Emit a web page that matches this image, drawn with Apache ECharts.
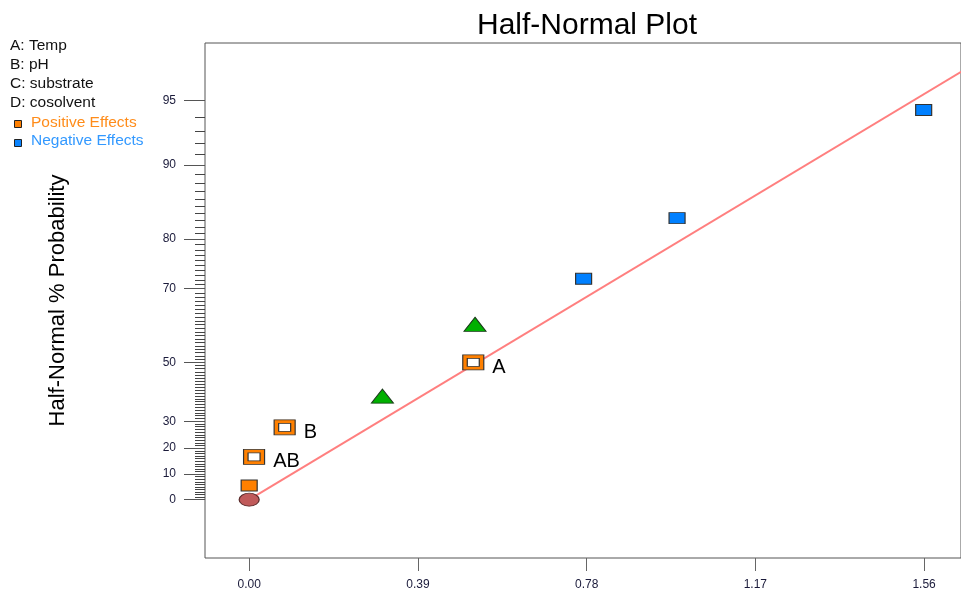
<!DOCTYPE html>
<html>
<head>
<meta charset="utf-8">
<script src="https://cdn.jsdelivr.net/npm/echarts@6/dist/echarts.min.js"></script>
<style>html,body{margin:0;padding:0;background:#fff}#c{width:961px;height:596px}</style>
</head>
<body>
<div id="c"></div>
<script>
// ---- data (x = |effect|, y = half-normal % probability) ----
const xTicks = [0.00, 0.39, 0.78, 1.17, 1.56];
const yMajorTicks = [0, 10, 20, 30, 50, 70, 80, 90, 95];
const yMinorTicks = [];
for (let i = 1; i <= 94; i++) { if (yMajorTicks.indexOf(i) < 0) yMinorTicks.push(i); }

const labeledEffects = ['AB', 'B', 'A'];
const labeledX = [0.0113, 0.082, 0.518];
const labeledP = [16.67, 27.78, 50.0];

const positiveSmallX = [0.0];
const positiveSmallP = [5.56];

const errorX = [0.308, 0.522];
const errorP = [38.89, 61.11];

const negativeX = [0.773, 0.989, 1.559];
const negativeP = [72.22, 83.33, 94.44];

const originX = [0.0];
const originP = [0.0];

const fitLineX = [0.0, 1.66];
const fitLineP = [0.0, 96.6];

const legendLines = ['A: Temp', 'B: pH', 'C: substrate', 'D: cosolvent'];

// ---- half-normal probability scale ----
function probit(p) {
  const a = [-3.969683028665376e+01, 2.209460984245205e+02, -2.759285104469687e+02, 1.383577518672690e+02, -3.066479806614716e+01, 2.506628277459239e+00];
  const b = [-5.447609879822406e+01, 1.615858368580409e+02, -1.556989798598866e+02, 6.680131188771972e+01, -1.328068155288572e+01];
  const c = [-7.784894002430293e-03, -3.223964580411365e-01, -2.400758277161838e+00, -2.549732539343734e+00, 4.374664141464968e+00, 2.938163982698783e+00];
  const d = [7.784695709041462e-03, 3.224671290700398e-01, 2.445134137142996e+00, 3.754408661907416e+00];
  const pl = 0.02425;
  let q, r;
  if (p < pl) { q = Math.sqrt(-2 * Math.log(p)); return (((((c[0]*q+c[1])*q+c[2])*q+c[3])*q+c[4])*q+c[5]) / ((((d[0]*q+d[1])*q+d[2])*q+d[3])*q+1); }
  if (p <= 1 - pl) { q = p - 0.5; r = q*q; return (((((a[0]*r+a[1])*r+a[2])*r+a[3])*r+a[4])*r+a[5])*q / (((((b[0]*r+b[1])*r+b[2])*r+b[3])*r+b[4])*r+1); }
  q = Math.sqrt(-2 * Math.log(1 - p)); return -(((((c[0]*q+c[1])*q+c[2])*q+c[3])*q+c[4])*q+c[5]) / ((((d[0]*q+d[1])*q+d[2])*q+d[3])*q+1);
}
function hz(pct) { return pct <= 0 ? 0 : probit(0.5 + pct / 200); }
function pts(xs, ps) { return xs.map((x, i) => [x, hz(ps[i])]); }

const FONT = '"Liberation Sans", Arial, sans-serif';
const majorZ = yMajorTicks.map(hz);
const minorZ = yMinorTicks.map(hz);

const labeledData = labeledX.map((x, i) => ({ name: labeledEffects[i], value: [x, hz(labeledP[i])] }));

const chart = echarts.init(document.getElementById('c'), null, { renderer: 'canvas' });
const legendGraphics = [];
legendLines.forEach((t, i) => {
  legendGraphics.push({ type: 'text', left: 10, top: 47 + i * 18.9 - 9, style: { text: t, font: '15.5px ' + FONT, fill: '#111' } });
});
legendGraphics.push({ type: 'rect', shape: { x: 14.5, y: 120.5, width: 7, height: 7 }, style: { fill: '#ff8000', stroke: '#222', lineWidth: 1 } });
legendGraphics.push({ type: 'text', left: 31, top: 123.3 - 9, style: { text: 'Positive Effects', font: '15.5px ' + FONT, fill: '#ff8c1a' } });
legendGraphics.push({ type: 'rect', shape: { x: 14.5, y: 139.5, width: 7, height: 7 }, style: { fill: '#0a84ff', stroke: '#222', lineWidth: 1 } });
legendGraphics.push({ type: 'text', left: 31, top: 142 - 9, style: { text: 'Negative Effects', font: '15.5px ' + FONT, fill: '#3399ff' } });

chart.setOption({
  animation: false,
  backgroundColor: '#fff',
  title: { text: 'Half-Normal Plot', left: 472, top: 6, textStyle: { fontFamily: FONT, fontSize: 30, fontWeight: 'normal', color: '#000' } },
  graphic: legendGraphics,
  grid: { left: 205, top: 43, right: -2, bottom: 38, show: true, borderColor: '#555', borderWidth: 1, backgroundColor: 'transparent' },
  xAxis: {
    type: 'value', min: -0.1021, max: 1.6453,
    axisLine: { show: false, onZero: false },
    splitLine: { show: false },
    axisTick: { show: true, length: 13, customValues: xTicks, lineStyle: { color: '#666', width: 1 } },
    axisLabel: { customValues: xTicks, margin: 21, formatter: v => v.toFixed(2), fontFamily: FONT, fontSize: 12, color: '#1a1a3a' }
  },
  yAxis: [
    {
      type: 'value', min: -0.2864, max: 2.2434, position: 'left',
      name: 'Half-Normal % Probability', nameLocation: 'middle', nameGap: 136, nameRotate: 90,
      nameTextStyle: { fontFamily: FONT, fontSize: 22, color: '#000' },
      axisLine: { show: false, onZero: false }, splitLine: { show: false },
      axisTick: { show: true, length: 21, customValues: majorZ, lineStyle: { color: '#555', width: 1 } },
      axisLabel: {
        customValues: majorZ, margin: 29, fontFamily: FONT, fontSize: 12, color: '#1a1a3a',
        formatter: v => { let best = 0; majorZ.forEach((z, i) => { if (Math.abs(z - v) < Math.abs(majorZ[best] - v)) best = i; }); return String(yMajorTicks[best]); }
      }
    },
    {
      type: 'value', min: -0.2864, max: 2.2434, position: 'left', offset: 0,
      axisLine: { show: false, onZero: false }, splitLine: { show: false },
      axisTick: { show: true, length: 10, customValues: minorZ, lineStyle: { color: '#444', width: 1 } },
      axisLabel: { show: false }
    }
  ],
  series: [
    { type: 'line', data: pts(fitLineX, fitLineP), symbol: 'none', clip: true, lineStyle: { color: '#ff7f7f', width: 2 }, z: 1 },
    { type: 'scatter', data: pts(originX, originP), symbol: 'circle', symbolSize: [20, 13], itemStyle: { color: '#c05a5a', borderColor: '#5a2a2a', borderWidth: 1, opacity: 1 }, z: 3 },
    { type: 'scatter', data: pts(positiveSmallX, positiveSmallP), symbol: 'rect', symbolSize: [16, 11], itemStyle: { color: '#ff8000', borderColor: '#333', borderWidth: 1, opacity: 1 }, z: 3 },
    { type: 'scatter', data: labeledData, symbol: 'rect', symbolSize: [21, 15], itemStyle: { color: '#ff8000', borderColor: '#333', borderWidth: 1, opacity: 1 }, z: 3,
      label: { show: true, position: 'right', distance: 8, offset: [0, 5], formatter: '{b}', fontFamily: FONT, fontSize: 20, color: '#000' } },
    { type: 'scatter', data: labeledData, symbol: 'rect', symbolSize: [12, 8], itemStyle: { color: '#fff', borderColor: '#333', borderWidth: 1, opacity: 1 }, z: 4 },
    { type: 'scatter', data: pts(errorX, errorP), symbol: 'triangle', symbolSize: [22, 14], itemStyle: { color: '#00b000', borderColor: '#1a3a1a', borderWidth: 1, opacity: 1 }, z: 3 },
    { type: 'scatter', data: pts(negativeX, negativeP), symbol: 'rect', symbolSize: [16, 11], itemStyle: { color: '#0080ff', borderColor: '#333', borderWidth: 1, opacity: 1 }, z: 3 }
  ]
});
</script>
</body>
</html>
